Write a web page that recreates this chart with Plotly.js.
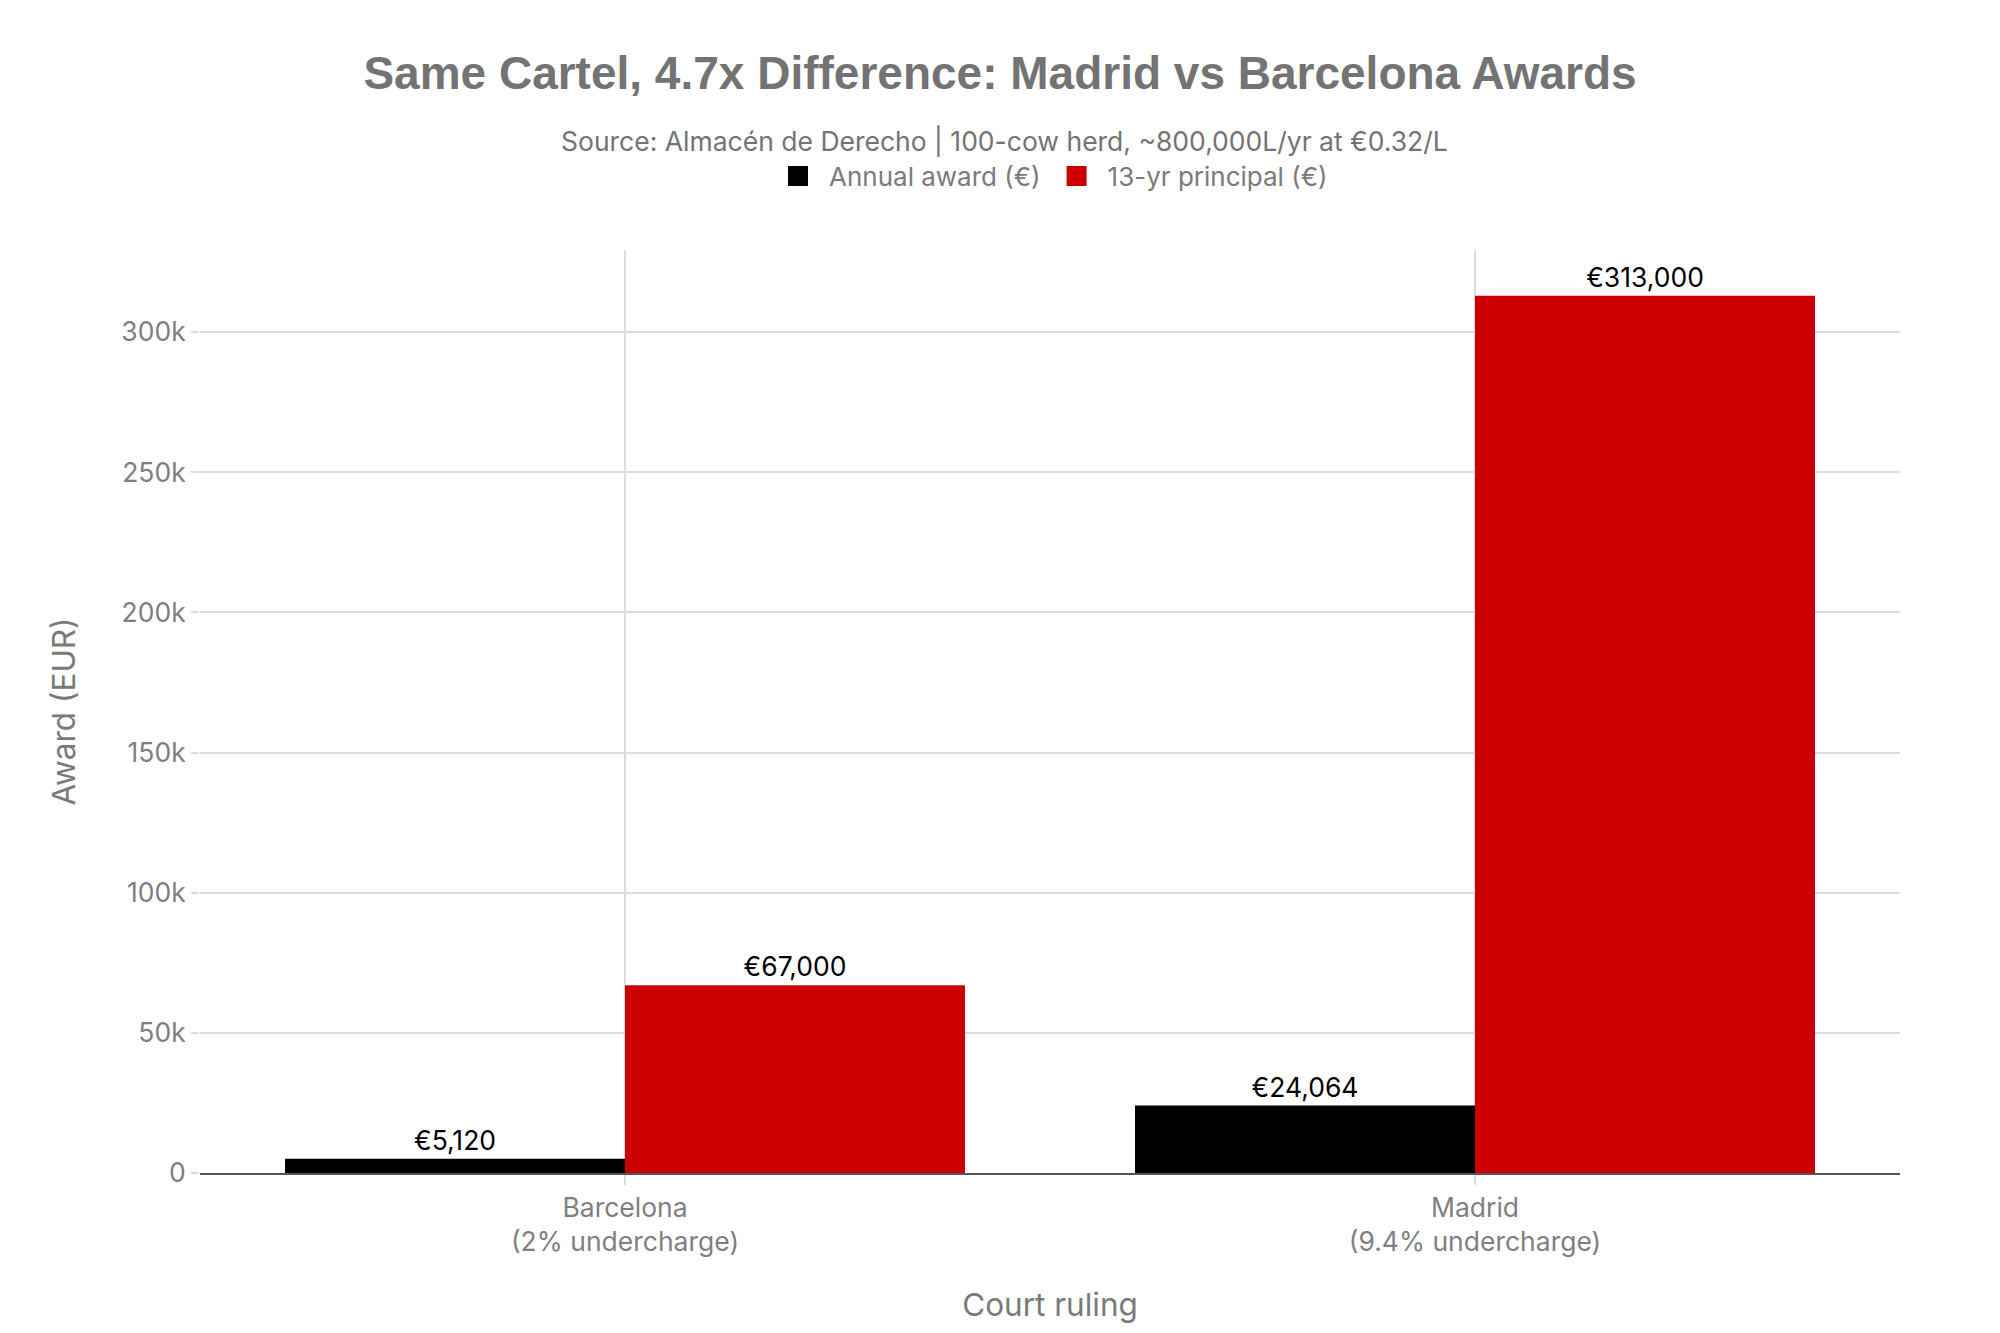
<!DOCTYPE html>
<html>
<head>
<meta charset="utf-8">
<script src="https://cdn.plot.ly/plotly-3.0.1.min.js"></script>
<style>
  html, body { margin: 0; padding: 0; background: #fff; }
  #chart { width: 2000px; height: 1333px; }
</style>
</head>
<body>
<div id="chart"></div>
<script>
var courts = ["Barcelona<br>(2% undercharge)", "Madrid<br>(9.4% undercharge)"];
var annualAward = [5120, 24064];
var principal13yr = [67000, 313000];
var seriesNames = ["Annual award (€)", "13-yr principal (€)"];

function euroLabels(values) {
	return values.map((v) => "€" + v.toLocaleString("en-US"));
}

var titleFont = "'Liberation Sans', Arial, sans-serif";
var bodyFont = "Inter, 'Liberation Sans', sans-serif";

var annual = {
	type: "bar",
	name: seriesNames[0],
	x: courts,
	y: annualAward,
	text: euroLabels(annualAward),
	textposition: "outside",
	cliponaxis: false,
	textfont: {family: bodyFont, size: 26.5, color: "#000"},
	marker: {color: "#000000"}
};

var principal = {
	type: "bar",
	name: seriesNames[1],
	x: courts,
	y: principal13yr,
	text: euroLabels(principal13yr),
	textposition: "outside",
	cliponaxis: false,
	textfont: {family: bodyFont, size: 26.5, color: "#000"},
	marker: {color: "#cc0000"}
};

var layout = {
	width: 2000,
	height: 1333,
	paper_bgcolor: "#fff",
	plot_bgcolor: "#fff",
	font: {family: bodyFont, size: 26, color: "#7f7f7f"},
	margin: {l: 200, r: 100, t: 250, b: 160, pad: 0},
	title: {
		text: "Same Cartel, 4.7x Difference: Madrid vs Barcelona Awards",
		font: {family: titleFont, size: 46, color: "#737373", weight: "bold"},
		x: 0.5,
		xanchor: "center",
		y: 0.945,
		yanchor: "middle",
		yref: "container"
	},
	annotations: [{
		text: "Source: Almacén de Derecho | 100-cow herd, ~800,000L/yr at €0.32/L",
		xref: "paper", yref: "paper",
		x: 0.4735, y: 1.118,
		xanchor: "center", yanchor: "middle",
		showarrow: false,
		font: {family: bodyFont, size: 26.5, color: "#737373"}
	}],
	showlegend: true,
	legend: {
		orientation: "h",
		x: 0.5, xanchor: "center",
		y: 1.08, yanchor: "middle",
		itemwidth: 52,
		font: {family: bodyFont, size: 26, color: "#7a7a7a"}
	},
	barmode: "group",
	bargap: 0.2,
	bargroupgap: 0,
	xaxis: {
		title: {text: "Court ruling", font: {family: bodyFont, size: 31.5, color: "#7a7a7a"}, standoff: 38},
		showgrid: true,
		gridcolor: "#dcdcdc",
		gridwidth: 2,
		ticks: "outside",
		ticklen: 10,
		tickwidth: 2,
		tickcolor: "#dcdcdc",
		showline: true,
		linecolor: "#555",
		linewidth: 2,
		tickfont: {family: bodyFont, size: 26.5, color: "#7f7f7f"}
	},
	yaxis: {
		title: {text: "Award (EUR)", font: {family: bodyFont, size: 31.5, color: "#7a7a7a"}, standoff: 36},
		range: [0, 329300],
		dtick: 50000,
		tickformat: "~s",
		showgrid: true,
		gridcolor: "#dcdcdc",
		gridwidth: 2,
		zeroline: false,
		ticks: "outside",
		ticklen: 8,
		tickwidth: 2,
		tickcolor: "#dcdcdc",
		tickfont: {family: bodyFont, size: 26.5, color: "#7f7f7f"}
	}
};

Plotly.newPlot("chart", [annual, principal], layout, {displayModeBar: false}).then(function (gd) {
	// bigger legend squares, as in the reference
	var squares = gd.querySelectorAll(".legend path.legendbar, .legend path.legendundefined");
	squares.forEach(function (p) { p.setAttribute("d", "M10,10H-10V-10H10Z"); });
});
</script>
</body>
</html>
